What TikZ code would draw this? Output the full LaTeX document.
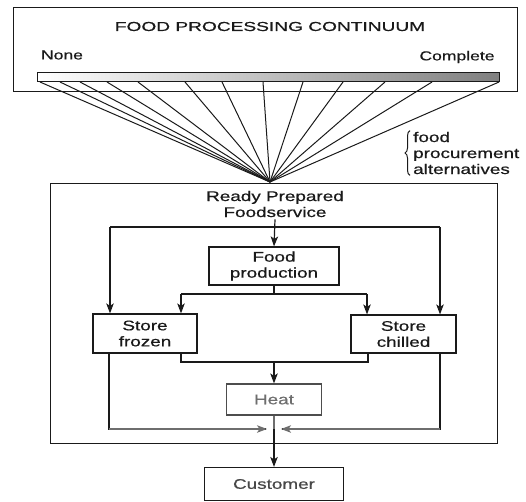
\documentclass[tikz,border=0pt]{standalone}
\usepackage{fontspec}
\setmainfont[FakeStretch=1.35,FakeBold=0.6]{Liberation Sans}
\usetikzlibrary{arrows.meta,decorations.pathreplacing}
\definecolor{ink}{HTML}{1A1A1A}
\definecolor{heatgray}{HTML}{6E6E6E}
\begin{document}
\begin{tikzpicture}[x=1pt,y=-1pt,
  every node/.style={font=\fontsize{14}{16}\selectfont, text=ink, inner sep=0pt},
  line/.style={draw=ink, line width=1.2pt},
  arr/.style={line, -{Stealth[length=10pt,width=7.5pt,inset=2.5pt]}},
  garr/.style={draw=heatgray, line width=1.2pt, -{Stealth[length=10pt,width=7.5pt,inset=2.5pt]}},
  boxnode/.style={draw=ink, line width=1.2pt, align=center},
  lbl/.style={align=center}]
\useasboundingbox (0,0) rectangle (526,501);
% top frame
\node[boxnode, anchor=north west, minimum width=504pt, minimum height=84pt] (topbox) at (13,7) {};
\node[lbl] (title) at (270,26.5) {\fontsize{13}{15}\selectfont\scalebox{1.09}[1]{FOOD PROCESSING CONTINUUM}};
\node[lbl] (none) at (62,55) {\fontsize{13}{15}\selectfont None};
\node[lbl] (complete) at (457,57) {\fontsize{13}{15}\selectfont Complete};
\node[draw=ink, line width=1pt, anchor=north west, minimum width=462pt, minimum height=9pt,
      left color=white, right color=black!50] (bar) at (37,72) {};
\coordinate (apex) at (270,182);
\foreach \dx in {3,23,43,70,101,148,185,226,266,306,348,395,462}
  \draw[line, line width=1pt] ([xshift=\dx pt]bar.south west) -- (apex);
% brace and note
\node[anchor=west, align=left] (note) at (413,153) {food\\procurement\\alternatives};
\draw[line, line width=1pt, decorate, decoration={brace, amplitude=5pt}]
  ([xshift=-3pt,yshift=-1pt]note.south west) -- ([xshift=-3pt,yshift=1pt]note.north west);
% outer frame
\node[boxnode, anchor=north west, minimum width=447pt, minimum height=260pt] (prep) at (50,183) {};
\node[lbl] (ready) at (275,204) {Ready Prepared\\Foodservice};
% boxes
\node[boxnode, minimum width=130pt, minimum height=38pt] (food) at (274,266) {Food\\production};
\node[boxnode, minimum width=104pt, minimum height=39pt] (frozen) at (145,333.5) {Store\\frozen};
\node[boxnode, minimum width=105pt, minimum height=38pt] (chilled) at (403.5,334) {Store\\chilled};
\node[draw=heatgray!70!black, line width=1.2pt, minimum width=95pt, minimum height=31pt, text=heatgray] (heat) at (274,399.5) {Heat};
\node[boxnode, fill=white, minimum width=139pt, minimum height=33pt] (customer) at (274,484) {\textcolor{ink!80}{Customer}};
% bus from ready
\coordinate (busL) at (110,227);
\coordinate (busR) at (440,227);
\draw[arr] (ready.south) ++(0,2) -- (food.north);
\draw[line] (busL) -- (busR);
\draw[arr] (busL) -- (busL |- frozen.north);
\draw[arr] (busR) -- (busR |- chilled.north);
% from food production
\coordinate (fpL) at (181,294);
\coordinate (fpR) at (367,294);
\draw[line] (food.south) -- (food.south |- fpL);
\draw[line] (fpL) -- (fpR);
\draw[arr] (fpL) -- (fpL |- frozen.north);
\draw[arr] (fpR) -- (fpR |- chilled.north);
% to heat
\coordinate (hL) at (181,362);
\coordinate (hR) at (368,362);
\draw[line] (hL |- frozen.south) -- (hL) -- (hR) -- (hR |- chilled.south);
\draw[arr] (heat.north |- hL) -- (heat.north);
% direct routes to customer
\coordinate (jn) at (274,429);
\coordinate (dL) at (109,429);
\coordinate (dR) at (440,429);
\draw[line] (dL |- frozen.south) -- (dL) -- ([xshift=-8pt]jn);
\draw[line] (dR |- chilled.south) -- (dR) -- ([xshift=8pt]jn);
\draw[garr] (dL) -- ([xshift=-7pt]jn);
\draw[garr] (dR) -- ([xshift=7pt]jn);
\draw[draw=heatgray, line width=1.2pt] (heat.south) -- (jn);
\draw[arr] (jn) -- (customer.north);
\end{tikzpicture}
\end{document}
